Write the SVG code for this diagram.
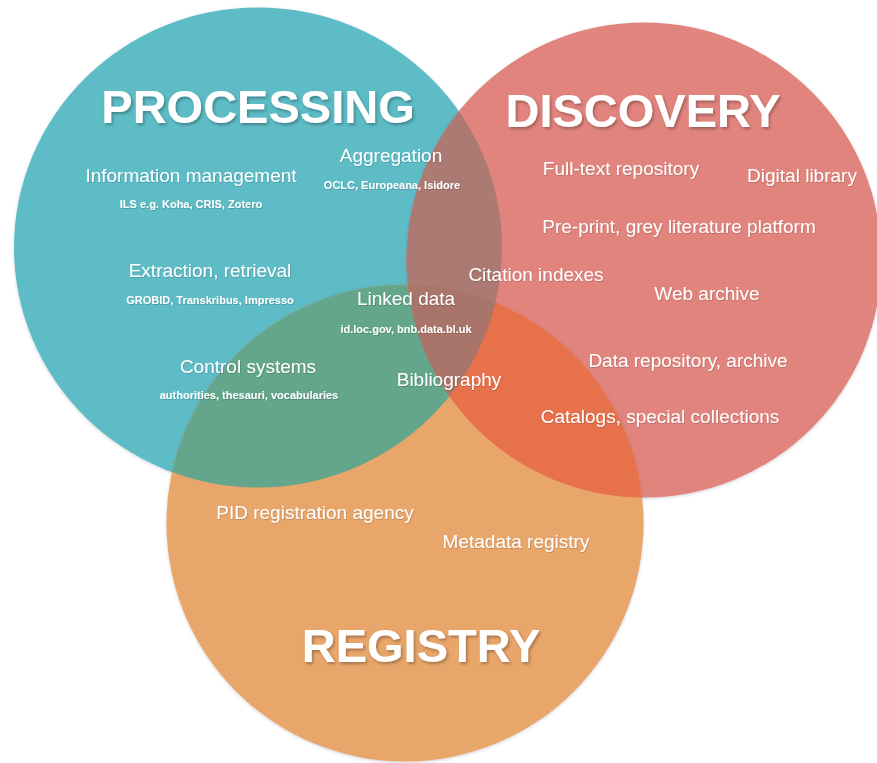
<svg xmlns="http://www.w3.org/2000/svg" width="877" height="763" viewBox="0 0 877 763">
<style>
text{font-family:"Liberation Sans",Arial,sans-serif;fill:#fff;text-anchor:middle}
.h{font-size:47px;font-weight:bold;filter:url(#ts)}
.l{font-size:19px;filter:url(#ts2)}
.s{font-size:11px;font-weight:bold;filter:url(#ts2)}
</style>
<defs>
<filter id="ts" x="-10%" y="-20%" width="120%" height="140%"><feDropShadow dx="1.5" dy="2" stdDeviation="1.5" flood-color="#000" flood-opacity="0.3"/></filter>
<filter id="ts2" x="-10%" y="-30%" width="120%" height="160%"><feDropShadow dx="0.6" dy="0.8" stdDeviation="0.7" flood-color="#000" flood-opacity="0.22"/></filter>
<filter id="cs" x="-5%" y="-5%" width="110%" height="110%"><feDropShadow dx="0" dy="1" stdDeviation="1.5" flood-color="#3a4a60" flood-opacity="0.25"/></filter>
<ellipse id="cT" cx="258" cy="247.5" rx="244" ry="240"/>
<circle id="cR" cx="644" cy="260" r="237.5"/>
<circle id="cO" cx="405" cy="523" r="238.5"/>
<clipPath id="clipT"><use href="#cT"/></clipPath>
<clipPath id="clipR"><use href="#cR"/></clipPath>
</defs>
<g id="circles">
<g id="processing-circle" filter="url(#cs)"><use href="#cT" fill="#5DBCC6"/></g>
<g id="discovery-circle" filter="url(#cs)"><use href="#cR" fill="#E2847E"/></g>
<g id="registry-circle" filter="url(#cs)"><use href="#cO" fill="#E9A66A"/></g>
<g id="overlap-processing-discovery" clip-path="url(#clipT)"><use href="#cR" fill="#AB7A72"/></g>
<g id="overlap-processing-registry" clip-path="url(#clipT)"><use href="#cO" fill="#63A68B"/></g>
<g id="overlap-discovery-registry" clip-path="url(#clipR)"><use href="#cO" fill="#E7714A"/></g>
<g id="overlap-all" clip-path="url(#clipR)"><g clip-path="url(#clipT)"><use href="#cO" fill="#A97469"/></g></g>
</g>
<g id="connectors"/>
<g id="processing">
<text class="h" x="258" y="123">PROCESSING</text>
<g id="information-management"><text class="l" x="191" y="182">Information management</text><text class="s" x="191" y="208">ILS e.g. Koha, CRIS, Zotero</text></g>
<g id="extraction-retrieval"><text class="l" x="210" y="277">Extraction, retrieval</text><text class="s" x="210" y="304">GROBID, Transkribus, Impresso</text></g>
<g id="control-systems"><text class="l" x="248" y="373">Control systems</text><text class="s" x="249" y="399">authorities, thesauri, vocabularies</text></g>
<g id="aggregation"><text class="l" x="391" y="162">Aggregation</text><text class="s" x="392" y="189">OCLC, Europeana, Isidore</text></g>
<g id="linked-data"><text class="l" x="406" y="305">Linked data</text><text class="s" x="406" y="333">id.loc.gov, bnb.data.bl.uk</text></g>
<g id="bibliography"><text class="l" x="449" y="386">Bibliography</text></g>
</g>
<g id="discovery">
<text class="h" x="643" y="127">DISCOVERY</text>
<g id="full-text-repository"><text class="l" x="621" y="175">Full-text repository</text></g>
<g id="digital-library"><text class="l" x="802" y="182">Digital library</text></g>
<g id="pre-print"><text class="l" x="679" y="233">Pre-print, grey literature platform</text></g>
<g id="citation-indexes"><text class="l" x="536" y="281">Citation indexes</text></g>
<g id="web-archive"><text class="l" x="707" y="300">Web archive</text></g>
<g id="data-repository"><text class="l" x="688" y="367">Data repository, archive</text></g>
<g id="catalogs"><text class="l" x="660" y="423">Catalogs, special collections</text></g>
</g>
<g id="registry">
<text class="h" x="421" y="662">REGISTRY</text>
<g id="pid-registration-agency"><text class="l" x="315" y="519">PID registration agency</text></g>
<g id="metadata-registry"><text class="l" x="516" y="548">Metadata registry</text></g>
</g>
</svg>
